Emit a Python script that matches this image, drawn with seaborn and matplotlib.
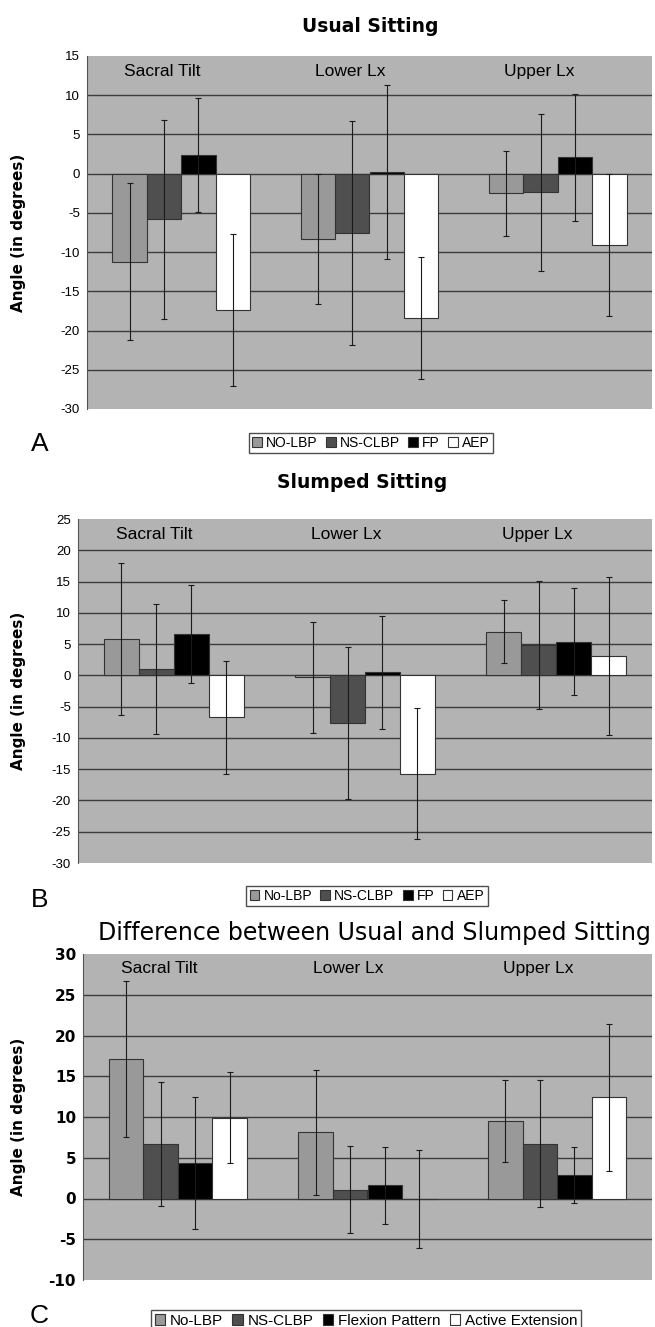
import numpy as np
import pandas as pd
import matplotlib
matplotlib.use("Agg")
import matplotlib.pyplot as plt
import seaborn as sns

sns.set_theme(style="white")
plt.rcParams["font.family"] = ["DejaVu Sans"]
plt.rcParams["axes.unicode_minus"] = False
plt.rcParams["text.color"] = "black"
plt.rcParams["ytick.color"] = "black"

# ---------------- data ----------------
regions = ["Sacral Tilt", "Lower Lx", "Upper Lx"]
groups = ["NO-LBP", "NS-CLBP", "FP", "AEP"]

# Usual sitting: means / SD per group (Sacral, Lower, Upper)
usual_mean = {
    "NO-LBP": [-11.2, -8.3, -2.5],
    "NS-CLBP": [-5.8, -7.6, -2.4],
    "FP": [2.4, 0.2, 2.1],
    "AEP": [-17.4, -18.4, -9.1],
}
usual_sd = {
    "NO-LBP": [10.0, 8.3, 5.4],
    "NS-CLBP": [12.7, 14.3, 10.0],
    "FP": [7.3, 11.1, 8.1],
    "AEP": [9.7, 7.8, 9.1],
}

# Slumped sitting
slumped_mean = {
    "NO-LBP": [5.8, -0.3, 7.0],
    "NS-CLBP": [1.0, -7.6, 4.9],
    "FP": [6.6, 0.5, 5.4],
    "AEP": [-6.7, -15.7, 3.1],
}
slumped_sd = {
    "NO-LBP": [12.2, 8.9, 5.1],
    "NS-CLBP": [10.4, 12.2, 10.2],
    "FP": [7.8, 9.0, 8.5],
    "AEP": [9.0, 10.5, 12.6],
}

# Difference between usual and slumped
diff_mean = {
    "NO-LBP": [17.1, 8.1, 9.5],
    "NS-CLBP": [6.7, 1.1, 6.7],
    "FP": [4.4, 1.6, 2.9],
    "AEP": [9.9, -0.1, 12.4],
}
diff_sd = {
    "NO-LBP": [9.6, 7.7, 5.0],
    "NS-CLBP": [7.6, 5.3, 7.8],
    "FP": [8.1, 4.7, 3.4],
    "AEP": [5.6, 6.0, 9.0],
}

legend_a = ["NO-LBP", "NS-CLBP", "FP", "AEP"]
legend_b = ["No-LBP", "NS-CLBP", "FP", "AEP"]
legend_c = ["No-LBP", "NS-CLBP", "Flexion Pattern", "Active Extension"]

colors = ["#999999", "#4f4f4f", "#000000", "#ffffff"]
bg = "#b3b3b3"
grid_col = "#3c3c3c"


def make_df(means, sds):
    rows = []
    for g in groups:
        for i, r in enumerate(regions):
            rows.append({"region": r, "group": g, "mean": means[g][i], "sd": sds[g][i]})
    return pd.DataFrame(rows)


def draw_panel(ax, means, sds, ylim, title, title_xy, title_size, title_weight,
               legend_labels, leg_pos, leg_size, letter, letter_y,
               bold_ticks=False):
    df = make_df(means, sds)
    sns.barplot(data=df, x="region", y="mean", hue="group", hue_order=groups,
                order=regions, palette=colors, width=0.73, gap=0,
                edgecolor="#333333", linewidth=0.8, errorbar=None, ax=ax,
                zorder=3)
    # error bars at bar centres
    for cont, g in zip(ax.containers, groups):
        xs = [p.get_x() + p.get_width() / 2 for p in cont.patches]
        sub = df[df["group"] == g].set_index("region").loc[regions]
        ax.errorbar(xs, sub["mean"], yerr=sub["sd"], fmt="none",
                    ecolor="#1a1a1a", elinewidth=0.8, capsize=2,
                    capthick=0.8, zorder=4)

    ax.set_facecolor(bg)
    ax.set_ylim(*ylim)
    ax.set_xlim(-0.5, 2.5)
    ticks = np.arange(ylim[0], ylim[1] + 1, 5)
    ax.set_yticks(ticks)
    ax.set_yticklabels([str(int(t)) for t in ticks],
                       fontsize=11 if bold_ticks else 9.5,
                       fontweight="bold" if bold_ticks else "normal",
                       family=["Liberation Sans"] if not bold_ticks else ["DejaVu Sans"])
    for t in ticks[1:-1]:
        ax.axhline(t, color=grid_col, lw=1.0, zorder=1)
    ax.tick_params(axis="y", direction="out", length=3, width=0.8,
                   color="#555555", pad=2)
    ax.tick_params(axis="x", bottom=False, labelbottom=False)
    ax.set_xlabel("")
    ax.set_ylabel("")
    for s in ["top", "right", "bottom"]:
        ax.spines[s].set_visible(False)
    ax.spines["left"].set_color("#555555")
    ax.spines["left"].set_linewidth(0.8)

    for i, r in enumerate(regions):
        ax.text(i - 0.1, ylim[1] - (ylim[1] - ylim[0]) * 0.045, r,
                ha="center", va="center", fontsize=12.5,
                family=["Liberation Sans"], zorder=5)

    ax.get_legend().remove()
    handles = [plt.Rectangle((0, 0), 1, 1, facecolor=c, edgecolor="#333333",
                             lw=0.8) for c in colors]
    fig.legend(handles, legend_labels, loc="center", ncol=4,
               bbox_to_anchor=leg_pos, frameon=True, fancybox=False,
               edgecolor="#222222", handlelength=0.7,
               handleheight=0.7, handletextpad=0.3, columnspacing=0.6,
               borderpad=0.25, prop={"family": "Liberation Sans", "size": leg_size})

    pos = ax.get_position()
    fig.text(title_xy[0], title_xy[1], title, ha="center",
             va="center", fontsize=title_size, fontweight=title_weight)
    fig.text(0.028, (pos.y0 + pos.y1) / 2, "Angle (in degrees)", rotation=90,
             ha="center", va="center", fontsize=11, fontweight="bold")
    fig.text(0.06, letter_y, letter, ha="center", va="center", fontsize=19,
             family=["Liberation Sans"])


fig = plt.figure(figsize=(6.55, 13.27), dpi=100)
H = 1327.0
W = 655.0

axA = fig.add_axes([87 / W, 1 - 409 / H, (652 - 87) / W, (409 - 56) / H])
axB = fig.add_axes([78 / W, 1 - 863 / H, (652 - 78) / W, (863 - 519) / H])
axC = fig.add_axes([83 / W, 1 - 1280 / H, (652 - 83) / W, (1280 - 954) / H])

draw_panel(axA, usual_mean, usual_sd, (-30, 15), "Usual Sitting",
           (370 / W, 1 - 27 / H), 13.5, "bold", legend_a,
           (371 / W, 1 - 443 / H), 10, "A", 1 - 444 / H)
draw_panel(axB, slumped_mean, slumped_sd, (-30, 25), "Slumped Sitting",
           (362 / W, 1 - 482 / H), 13.5, "bold", legend_b,
           (367 / W, 1 - 896 / H), 10, "B", 1 - 900 / H)
draw_panel(axC, diff_mean, diff_sd, (-10, 30),
           "Difference between Usual and Slumped Sitting",
           (374 / W, 1 - 933 / H), 17, "normal", legend_c,
           (366 / W, 1 - 1321 / H), 11, "C", 1 - 1316 / H, bold_ticks=True)

plt.savefig("out.png", dpi=100)
